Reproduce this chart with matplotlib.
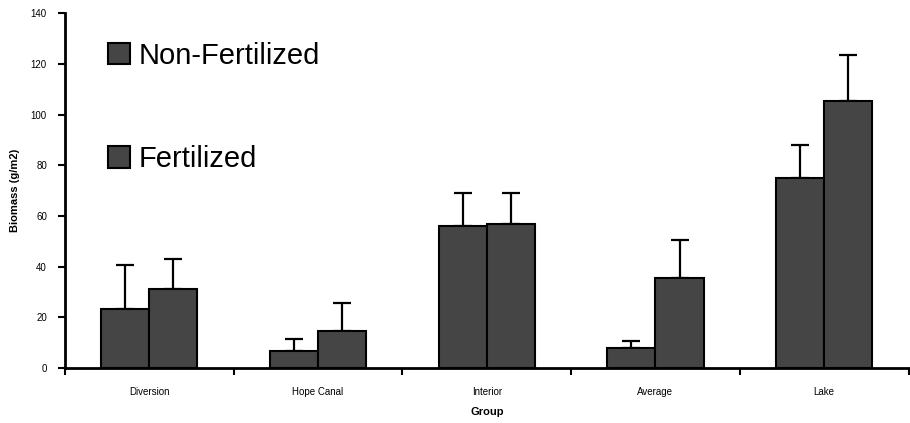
import numpy as np
import matplotlib.pyplot as plt
from matplotlib.patches import Patch

plt.rcParams["font.family"] = ["Liberation Sans", "DejaVu Sans"]

groups = ["Diversion", "Hope Canal", "Interior", "Average", "Lake"]
non_fert = [23.3, 6.8, 56.0, 8.0, 74.8]
non_fert_err = [17.3, 4.6, 13.0, 2.5, 13.1]
fert = [31.1, 14.7, 57.0, 35.5, 105.4]
fert_err = [11.9, 11.0, 12.0, 15.0, 18.0]

bar_color = "#454545"

fig = plt.figure(figsize=(9.1, 4.23), dpi=100)
ax = fig.add_axes([0.0714, 0.130, 0.927, 0.839])

x = np.arange(len(groups))
w = 0.285
ekw = dict(elinewidth=1.6, capthick=1.6, ecolor="black")
ax.bar(x - w, non_fert, w, align="edge", color=bar_color, edgecolor="black",
       linewidth=1.5, zorder=3)
ax.bar(x, fert, w, align="edge", color=bar_color, edgecolor="black",
       linewidth=1.5, zorder=3)
ax.errorbar(x - w / 2, non_fert, yerr=[np.zeros(5), non_fert_err], fmt="none",
            capsize=6.5, zorder=2, **ekw)
ax.errorbar(x + w / 2, fert, yerr=[np.zeros(5), fert_err], fmt="none",
            capsize=6.5, zorder=2, **ekw)

ax.set_xlim(-0.5, 4.5)
ax.set_ylim(0, 140)
ax.set_yticks(np.arange(0, 141, 20))
ax.tick_params(axis="y", direction="out", length=5, width=1.5, labelsize=7, pad=8)

# boundaries get tick marks, group centres get the labels
ax.set_xticks(np.arange(-0.5, 4.6, 1.0))
ax.set_xticklabels([])
ax.tick_params(axis="x", which="major", direction="out", length=5, width=1.5)
ax.set_xticks(x, minor=True)
ax.set_xticklabels(groups, minor=True)
ax.tick_params(axis="x", which="minor", length=0, labelsize=7, pad=14)

for s in ["top", "right"]:
    ax.spines[s].set_visible(False)
for s in ["left", "bottom"]:
    ax.spines[s].set_linewidth(2)

ax.set_ylabel("Biomass (g/m2)", fontsize=8, fontweight="bold", labelpad=8)
ax.set_xlabel("Group", fontsize=8, fontweight="bold", labelpad=7)

handles = [Patch(facecolor=bar_color, edgecolor="black", linewidth=1.5),
           Patch(facecolor=bar_color, edgecolor="black", linewidth=1.5)]
ax.legend(handles, ["Non-Fertilized", "Fertilized"], loc="upper left",
          bbox_to_anchor=(0.051, 0.92), frameon=False, fontsize=21,
          borderpad=0, borderaxespad=0,
          handlelength=0.75, handleheight=0.75, handletextpad=0.3,
          labelspacing=2.6)

fig.savefig("out.png", dpi=100)
